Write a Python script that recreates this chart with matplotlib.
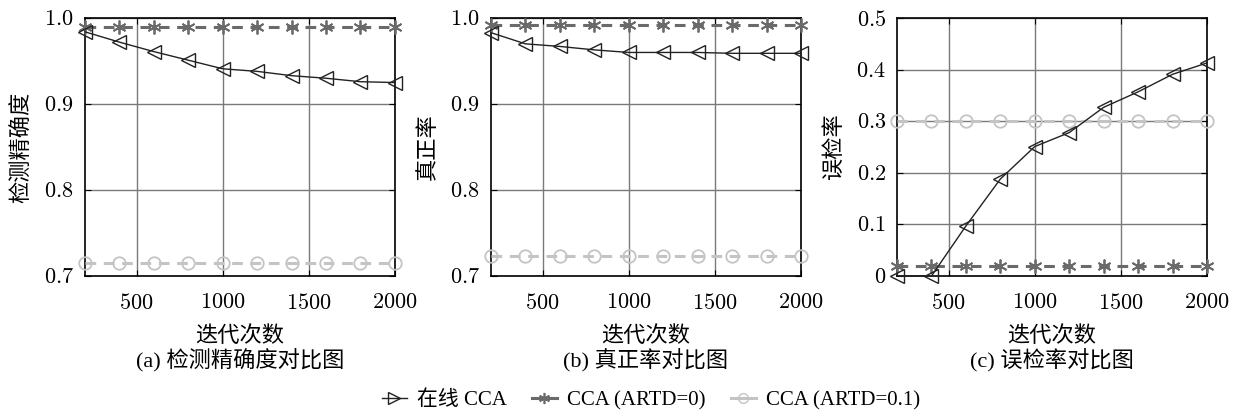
import matplotlib
matplotlib.use("Agg")
from matplotlib import pyplot as plt
from matplotlib.lines import Line2D

plt.rcParams['font.family'] = ['Liberation Serif', 'Noto Sans CJK SC']
plt.rcParams['mathtext.fontset'] = 'cm'

# iterations
iters = [200, 400, 600, 800, 1000, 1200, 1400, 1600, 1800, 2000]

# (a) detection precision
prec_online = [0.984, 0.972, 0.961, 0.951, 0.941, 0.938, 0.933, 0.930, 0.926, 0.925]
prec_artd0 = [0.990] * 10
prec_artd01 = [0.715] * 10

# (b) true positive rate
tpr_online = [0.983, 0.970, 0.967, 0.963, 0.960, 0.960, 0.960, 0.959, 0.959, 0.959]
tpr_artd0 = [0.992] * 10
tpr_artd01 = [0.723] * 10

# (c) false detection rate
fdr_online = [0.0, 0.0, 0.097, 0.188, 0.251, 0.278, 0.327, 0.357, 0.391, 0.413]
fdr_artd0 = [0.019] * 10
fdr_artd01 = [0.300] * 10

xticks = [500, 1000, 1500, 2000]
ylabels = ['检测精确度', '真正率', '误检率']
captions = ['(a) 检测精确度对比图', '(b) 真正率对比图', '(c) 误检率对比图']
legend_names = ['在线 CCA', 'CCA (ARTD=0)', 'CCA (ARTD=0.1)']

panels = [
    (prec_online, prec_artd0, prec_artd01, (0.7, 1.0), ['0.7', '0.8', '0.9', '1.0']),
    (tpr_online, tpr_artd0, tpr_artd01, (0.7, 1.0), ['0.7', '0.8', '0.9', '1.0']),
    (fdr_online, fdr_artd0, fdr_artd01, (0.0, 0.5), ['0', '0.1', '0.2', '0.3', '0.4', '0.5']),
]

c_dark = '#6a6a6a'
c_light = '#c4c4c4'
asterisk = (6, 2, 0)

fig = plt.figure(figsize=(12.33, 4.17), dpi=100)
lefts = [0.0689, 0.3982, 0.7275]

for i, (on, a0, a01, ylim, ytl) in enumerate(panels):
    ax = fig.add_axes([lefts[i], 0.338, 0.2514, 0.6187])
    ax.plot(iters, a01, color=c_light, lw=2.2, ls=(0, (3.5, 2.5)), marker='o', ms=9,
            mfc='none', mec=c_light, mew=1.3, clip_on=False, zorder=3)
    ax.plot(iters, a0, color=c_dark, lw=2.2, ls=(0, (3.5, 2.5)), marker=asterisk, ms=10,
            mec=c_dark, mew=1.3, clip_on=False, zorder=3)
    ax.plot(iters, on, color='#222222', lw=1.0, marker='<', ms=10,
            mfc='none', mec='#222222', mew=1.0, clip_on=False, zorder=4)
    ax.set_xlim(200, 2000)
    ax.set_ylim(*ylim)
    ax.set_xticks(xticks)
    ax.set_xticklabels(['$%d$' % t for t in xticks])
    ax.set_yticks([float(t) for t in ytl])
    ax.set_yticklabels(['$%s$' % t for t in ytl])
    ax.grid(True, color='#7a7a7a', lw=1.0)
    ax.set_axisbelow(True)
    ax.tick_params(direction='in', top=True, right=True, labelsize=16, length=4)
    ax.tick_params(axis='x', pad=13)
    ax.tick_params(axis='y', pad=8)
    for s in ax.spines.values():
        s.set_linewidth(1.2)
    ax.set_ylabel(ylabels[i], fontsize=16, labelpad=8)
    ax.set_xlabel('迭代次数', fontsize=16, labelpad=9)
    fig.text(lefts[i] + 0.2514 / 2, 0.135, captions[i], ha='center', va='center', fontsize=16)

handles = [
    Line2D([], [], color='#222222', lw=1.0, marker='>', ms=8, mfc='none', mec='#222222'),
    Line2D([], [], color=c_dark, lw=2.2, marker=asterisk, ms=8, mec=c_dark, mew=1.2),
    Line2D([], [], color=c_light, lw=2.2, marker='o', ms=7, mfc='none', mec=c_light),
]
fig.legend(handles, legend_names, loc='center', bbox_to_anchor=(0.528, 0.04), ncol=3,
           frameon=False, fontsize=15, handlelength=1.2, columnspacing=1.2, handletextpad=0.5)

fig.savefig('out.png', dpi=100)
